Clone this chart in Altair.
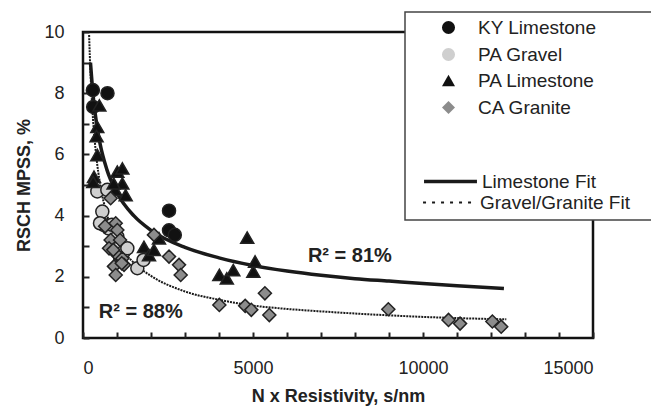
import altair as alt
import pandas as pd

# ---- measured data: N x Resistivity (s/nm) vs RSCH MPSS (%) ----
ky_lime_x = [290, 300, 720, 2530, 2530, 2700]
ky_lime_y = [8.1, 7.55, 8.0, 4.16, 3.52, 3.37]

pa_gravel_x = [421, 715, 568, 618, 500, 750, 1010, 850, 1100, 1206, 1304, 1598, 1780]
pa_gravel_y = [4.79, 4.84, 4.13, 3.69, 3.75, 3.58, 3.31, 3.7, 2.6, 2.83, 2.93, 2.28, 2.55]

pa_lime_x = [480, 420, 400, 421, 323, 300, 950, 1010, 1157, 1157, 1255, 900,
             1794, 1941, 2088, 2235, 4010, 4230, 4420, 4830, 5010, 5060]
pa_lime_y = [7.6, 6.9, 6.6, 5.98, 5.27, 5.1, 4.84, 5.44, 5.54, 5.05, 4.67, 5.05,
             2.98, 2.71, 2.88, 3.26, 2.06, 1.95, 2.22, 3.28, 2.17, 2.5]

ca_granite_x = [813, 650, 962, 1010, 813, 1090, 766, 1010, 1157, 912, 1206, 962, 890,
                1140, 2088, 2530, 2824, 2873, 4010, 4770, 4950, 5350, 5480, 8980, 10750,
                11090, 12040, 12300]
ca_granite_y = [4.57, 3.65, 3.75, 3.53, 3.2, 3.2, 2.93, 2.71, 2.6, 2.34, 2.39, 2.06, 2.88,
                2.44, 3.37, 2.66, 2.39, 2.06, 1.08, 1.05, 0.92, 1.46, 0.75, 0.94, 0.59,
                0.47, 0.54, 0.37]

rock_names = ["KY Limestone", "PA Gravel", "PA Limestone", "CA Granite"]
rock_shapes = ["circle", "circle", "triangle-up", "diamond"]
rock_fills = ["#111111", "#cfcfcf", "#111111", "#8c8c8c"]
rock_sizes = [170, 170, 230, 190]

# ---- fitted trend curves (values along each curve) ----
lime_fit_x = [220, 300, 400, 500, 700, 1000, 1500, 2000, 3000, 4000, 5000, 6000,
              7000, 8000, 9000, 10000, 11000, 12380]
lime_fit_y = [9.0, 7.9, 7.0, 6.36, 5.51, 4.74, 3.99, 3.52, 2.96, 2.62, 2.37, 2.19,
              2.05, 1.94, 1.86, 1.78, 1.71, 1.62]

grav_fit_x = [180, 200, 250, 300, 400, 500, 700, 1000, 1500, 2000, 3000, 4000, 5000,
              6000, 7000, 8000, 9000, 10000, 11000, 12450]
grav_fit_y = [9.9, 9.23, 7.97, 7.07, 5.85, 5.05, 4.05, 3.2, 2.45, 2.03, 1.52, 1.25, 1.06,
              0.95, 0.87, 0.8, 0.74, 0.69, 0.65, 0.61]

# ---- annotations ----
r2_text = ["R\u00b2 = 81%", "R\u00b2 = 88%"]
r2_x = [7850, 1700]
r2_y = [2.68, 0.85]

FONT = "Liberation Sans"
INK = "#1a1a1a"

pts = pd.concat([
    pd.DataFrame({"x": ky_lime_x, "y": ky_lime_y, "rock": rock_names[0]}),
    pd.DataFrame({"x": pa_gravel_x, "y": pa_gravel_y, "rock": rock_names[1]}),
    pd.DataFrame({"x": pa_lime_x, "y": pa_lime_y, "rock": rock_names[2]}),
    pd.DataFrame({"x": ca_granite_x, "y": ca_granite_y, "rock": rock_names[3]}),
], ignore_index=True)

lime_fit = pd.DataFrame({"x": lime_fit_x, "y": lime_fit_y, "fit": "Limestone Fit"})
grav_fit = pd.DataFrame({"x": grav_fit_x, "y": grav_fit_y, "fit": "Gravel/Granite Fit"})
notes = pd.DataFrame({"x": r2_x, "y": r2_y, "t": r2_text})

xscale = alt.Scale(domain=[0, 15000], nice=False, zero=False)
yscale = alt.Scale(domain=[0, 10], nice=False, zero=False)

point_legend = alt.Legend(
    title=None, orient="none", legendX=356, legendY=-14, padding=0,
    labelFont=FONT, labelFontSize=19, labelColor="#222", labelOffset=20,
    rowPadding=6, symbolStrokeColor="#222", symbolStrokeWidth=1.5,
)

points = alt.Chart(pts).mark_point(filled=True, strokeWidth=1.5, opacity=1).encode(
    x=alt.X("x:Q", scale=xscale, axis=alt.Axis(
        orient="bottom", values=[0, 5000, 10000, 15000], format="d",
        ticks=False, tickSize=0, domain=False, grid=False,
        labelPadding=21, labelFont=FONT, labelFontSize=18, labelColor="#222",
        title="N x Resistivity, s/nm", titleFont=FONT, titleFontSize=18,
        titleFontWeight="bold", titleColor="#222", titlePadding=10)),
    y=alt.Y("y:Q", scale=yscale, axis=alt.Axis(
        orient="left", values=[0, 2, 4, 6, 8, 10], format="d",
        ticks=False, tickSize=0, domain=False, grid=False,
        labelPadding=19, labelFont=FONT, labelFontSize=18, labelColor="#222",
        title="RSCH MPSS, %", titleFont=FONT, titleFontSize=18,
        titleFontWeight="bold", titleColor="#222", titlePadding=10)),
    shape=alt.Shape("rock:N", scale=alt.Scale(domain=rock_names, range=rock_shapes), legend=point_legend),
    fill=alt.Fill("rock:N", scale=alt.Scale(domain=rock_names, range=rock_fills), legend=point_legend),
    size=alt.Size("rock:N", scale=alt.Scale(domain=rock_names, range=rock_sizes), legend=point_legend),
    stroke=alt.value("#222"),
)


def fit_legend(y0, dash, width):
    return alt.Legend(
        title=None, orient="none", legendX=339, legendY=y0, padding=0,
        labelFont=FONT, labelFontSize=19, labelColor="#222", labelOffset=3,
        symbolType="stroke", symbolSize=2800, symbolDash=dash, symbolStrokeWidth=width,
    )


lime_line = alt.Chart(lime_fit).mark_line(
    interpolate="monotone", strokeWidth=3.5
).encode(
    x=alt.X("x:Q", scale=xscale, axis=alt.Axis(
        orient="bottom", values=list(range(0, 15001, 1000)), tickSize=6, offset=-6,
        tickColor="#222", tickWidth=2, labels=False, domain=False, grid=False, title=None)),
    y=alt.Y("y:Q", scale=yscale, axis=alt.Axis(
        orient="left", values=list(range(0, 11)), tickSize=6, offset=-6,
        tickColor="#222", tickWidth=2, labels=False, domain=False, grid=False, title=None)),
    color=alt.Color("fit:N", scale=alt.Scale(domain=["Limestone Fit"], range=[INK]),
                    legend=fit_legend(121, [1, 0], 3.5)),
)

grav_line = alt.Chart(grav_fit).mark_line(
    interpolate="monotone", strokeWidth=2, strokeDash=[2, 1]
).encode(
    x=alt.X("x:Q", scale=xscale, axis=None),
    y=alt.Y("y:Q", scale=yscale, axis=None),
    color=alt.Color("fit:N", scale=alt.Scale(domain=["Gravel/Granite Fit"], range=[INK]),
                    legend=fit_legend(143, [3, 6], 2)),
)

labels = alt.Chart(notes).mark_text(font=FONT, fontSize=20, fontWeight="bold", color="#222").encode(
    x=alt.X("x:Q", scale=xscale, axis=None), y=alt.Y("y:Q", scale=yscale, axis=None), text="t:N",
)

legend_box = alt.Chart(pd.DataFrame({"k": [0]})).mark_rect(
    fill="white", stroke="#444", strokeWidth=1.5
).encode(x=alt.value(322), x2=alt.value(580), y=alt.value(-20), y2=alt.value(188))

chart = alt.layer(lime_line, grav_line, points, labels, legend_box).resolve_axis(
    x="independent", y="independent"
).resolve_scale(color="independent").properties(
    width=510, height=306,
    autosize=alt.AutoSizeParams(type="none"),
    padding={"left": 83, "top": 32, "right": 58, "bottom": 68},
    background="white",
).configure_view(stroke="#111", strokeWidth=2.5)

chart.save("out.html", embed_options={"renderer": "svg", "actions": False})
